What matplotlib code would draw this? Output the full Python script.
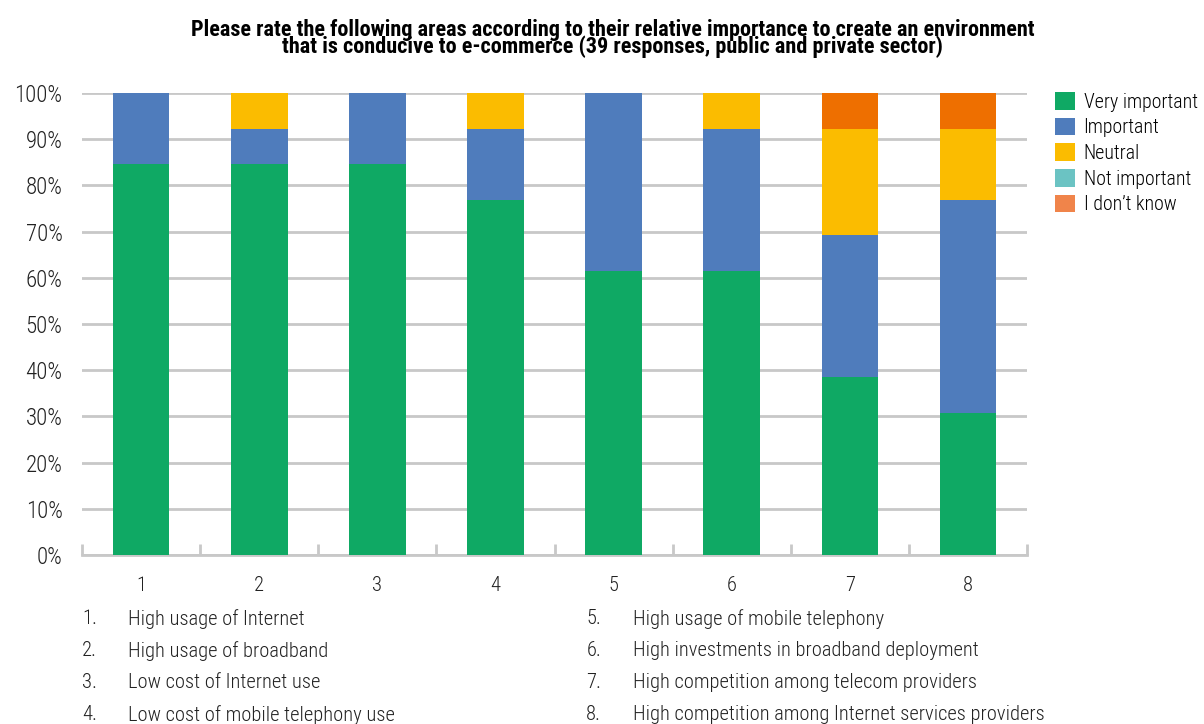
import matplotlib.pyplot as plt
from matplotlib.patches import Patch
from matplotlib.ticker import PercentFormatter

plt.rcParams['font.family'] = ['Roboto Condensed', 'DejaVu Sans']
plt.rcParams['font.weight'] = 'light'

# 39 responses per area
categories = ["1", "2", "3", "4", "5", "6", "7", "8"]
very_important = [33, 33, 33, 30, 24, 24, 15, 12]
important = [6, 3, 6, 6, 15, 12, 12, 18]
neutral = [0, 3, 0, 3, 0, 3, 9, 6]
not_important = [0, 0, 0, 0, 0, 0, 0, 0]
dont_know = [0, 0, 0, 0, 0, 0, 3, 3]
n_resp = 39

series = ["Very important", "Important", "Neutral", "Not important", "I don\u2019t know"]
bar_colors = ["#0FA964", "#4F7CBC", "#FBBC00", "#6BC3C3", "#EE6F00"]
legend_colors = ["#0FA964", "#4F7CBC", "#FBBC00", "#6BC3C3", "#F0844A"]

areas_left = ["High usage of Internet", "High usage of broadband",
              "Low cost of Internet use", "Low cost of mobile telephony use"]
areas_right = ["High usage of mobile telephony", "High investments in broadband deployment",
               "High competition among telecom providers",
               "High competition among Internet services providers"]

title = ("Please rate the following areas according to their relative importance to create an environment\n"
         "that is conducive to e-commerce (39 responses, public and private sector)")

fs = 14.8
txt_col = "#222222"

fig = plt.figure(figsize=(12.04, 7.24), dpi=100)
ax = fig.add_axes([0.0681, 0.2334, 0.785, 0.6381])

x = range(len(categories))
bottom = [0.0] * len(categories)
for name, vals, col in zip(series, [very_important, important, neutral, not_important, dont_know], bar_colors):
    frac = [v / n_resp for v in vals]
    ax.bar(x, frac, 0.48, bottom=bottom, color=col, zorder=3, label=name)
    bottom = [b + f for b, f in zip(bottom, frac)]

ax.set_xlim(-0.5, len(categories) - 0.5)
ax.set_ylim(0, 1)
ax.set_yticks([i / 10 for i in range(11)])
ax.yaxis.set_major_formatter(PercentFormatter(1.0, decimals=0))
ax.yaxis.grid(True, color="#C8C8C8", linewidth=2, zorder=0)
ax.tick_params(axis="y", length=0, labelsize=16.5, colors=txt_col, pad=14)

ax.set_xticks(list(x))
ax.set_xticklabels(categories)
ax.set_xticks([i - 0.5 for i in range(len(categories) + 1)], minor=True)
ax.tick_params(axis="x", which="major", length=0, labelsize=fs, pad=15, colors=txt_col)
ax.tick_params(axis="x", which="minor", direction="in", length=8, width=2, color="#C8C8C8")

for s in ["top", "right", "left"]:
    ax.spines[s].set_visible(False)
ax.spines["bottom"].set_color("#C8C8C8")
ax.spines["bottom"].set_linewidth(2)

handles = [Patch(facecolor=c, label=s) for s, c in zip(series, legend_colors)]
fig.legend(handles=handles, loc="upper left", bbox_to_anchor=(0.876, 0.873),
           frameon=False, fontsize=14.3, handlelength=1.0, handleheight=1.0,
           handletextpad=0.45, labelspacing=0.3, borderaxespad=0, borderpad=0)

fig.text(0.509, 1 - 38.5 / 724, title, ha="center", va="center", fontsize=16,
         fontweight="bold", linespacing=0.72)

for i, (l, r) in enumerate(zip(areas_left, areas_right)):
    yy = 1 - (619 + 32 * i) / 724
    fig.text(0.068, yy, f"{i + 1}.", fontsize=fs, va="center", color=txt_col)
    fig.text(0.106, yy, l, fontsize=fs, va="center", color=txt_col)
    fig.text(0.487, yy, f"{i + 5}.", fontsize=fs, va="center", color=txt_col)
    fig.text(0.526, yy, r, fontsize=fs, va="center", color=txt_col)

fig.savefig("out.png", dpi=100)
